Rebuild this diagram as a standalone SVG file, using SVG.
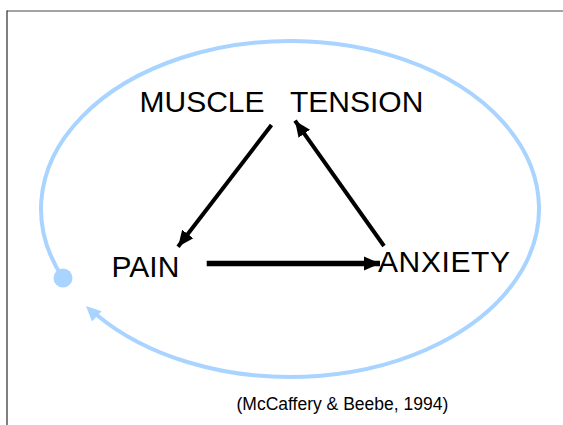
<svg xmlns="http://www.w3.org/2000/svg" width="563" height="425" viewBox="0 0 563 425">
<style>
.lbl{font-family:"Liberation Sans",Arial,sans-serif;font-size:30px;fill:#000}
.cite{font-family:"Liberation Sans",Arial,sans-serif;font-size:17.5px;fill:#000}
.blk{stroke:#000;fill:none;stroke-linecap:butt}
.cyc{stroke:#a8d4ff;fill:none;stroke-width:4}
</style>
<defs>
<marker id="ah" markerUnits="userSpaceOnUse" markerWidth="18" markerHeight="16" refX="16" refY="7" orient="auto" viewBox="0 0 18 14">
<path d="M0,0 L16,7 L0,14 Z" fill="#000"/>
</marker>
</defs>
<rect width="563" height="425" fill="#fff"/>
<g id="frame">
<line x1="7" y1="11" x2="563" y2="11" stroke="#858585" stroke-width="1.6"/>
<line x1="7" y1="10.5" x2="7" y2="425" stroke="#2a2a2a" stroke-width="1.2"/>
</g>
<g id="connectors">
<g id="cycle">
<path class="cyc" d="M63,278 A249 168 0 1 1 96.5,314.7"/>
<circle cx="63" cy="278" r="9.5" fill="#a8d4ff"/>
<polygon points="86,306 101.6,311.3 92,321.5" fill="#a8d4ff"/>
</g>
<line class="blk" x1="271.5" y1="125" x2="178" y2="246.7" stroke-width="4" marker-end="url(#ah)"/>
<line class="blk" x1="384" y1="246" x2="295" y2="120.7" stroke-width="4" marker-end="url(#ah)"/>
<line class="blk" x1="206.7" y1="263.5" x2="380" y2="263.5" stroke-width="5.5" marker-end="url(#ah)"/>
</g>
<g id="node-muscle-tension">
<text class="lbl" x="139.5" y="112">MUSCLE <tspan x="290">TENSION</tspan></text>
</g>
<g id="node-pain">
<text class="lbl" x="111.5" y="276.5">PAIN</text>
</g>
<g id="node-anxiety">
<text class="lbl" x="378" y="272" textLength="132">ANXIETY</text>
</g>
<g id="citation">
<text class="cite" x="236.5" y="410">(McCaffery &amp; Beebe, 1994)</text>
</g>
</svg>
